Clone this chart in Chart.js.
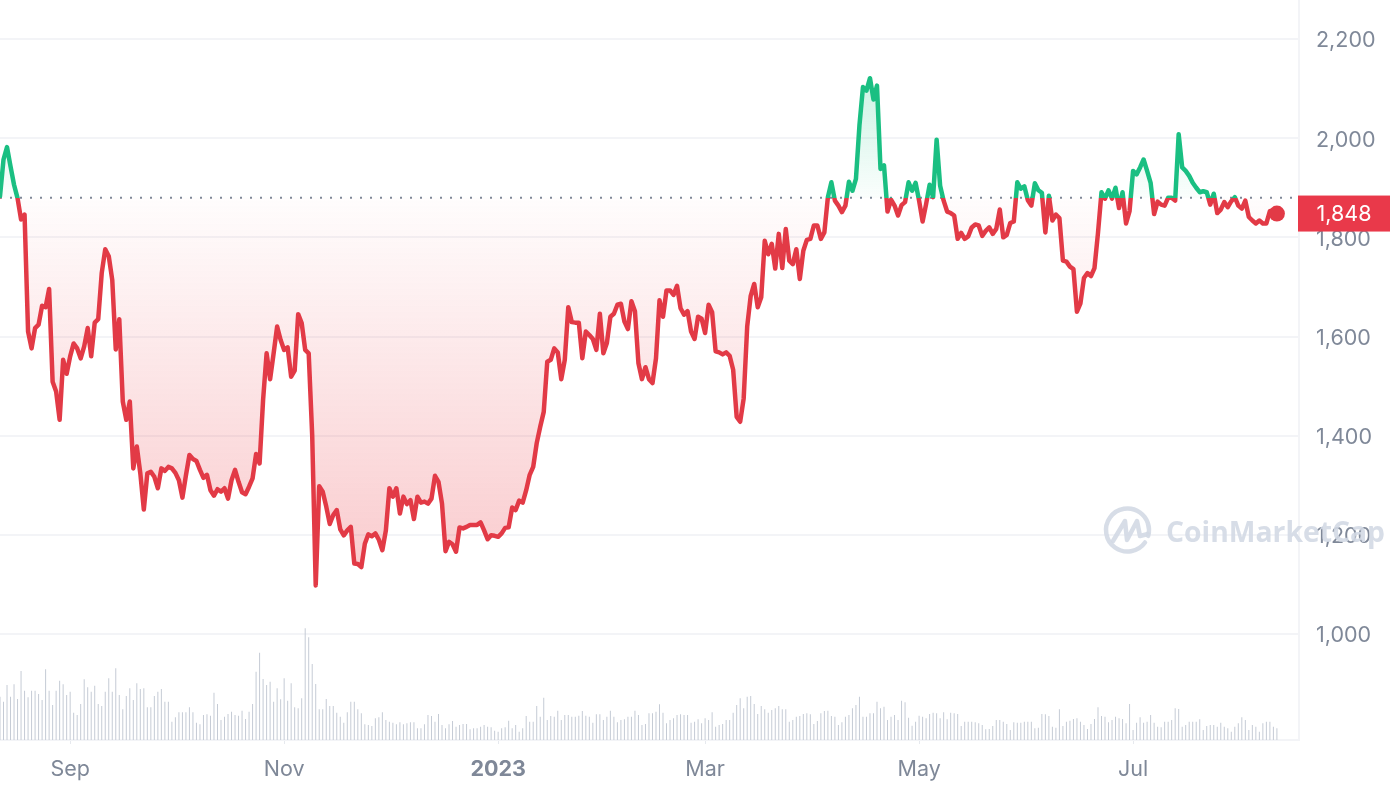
<!DOCTYPE html>
<html><head><meta charset="utf-8"><title>Price chart</title>
<style>html,body{margin:0;padding:0;background:#fff}canvas{display:block}</style>
<script src="https://cdn.jsdelivr.net/npm/chart.js@4/dist/chart.umd.min.js"></script>
</head><body><canvas id="c" width="1394" height="792"></canvas>
<script>
const tickDays=[20,81,142,201,262,323];
const tickLabels=['Sep','Nov','2023','Mar','May','Jul'];
const priceTicks=[1000,1200,1400,1600,1800,2000,2200];
const baselinePrice=1880;
const lastPrice=1848;
const prices=[
1883,1957,1982,1943,1906,1879,1836,1846,1610,1576,
1617,1624,1662,1659,1696,1509,1489,1432,1553,1525,
1560,1586,1576,1556,1580,1617,1560,1628,1635,1728,
1776,1762,1714,1574,1635,1469,1432,1469,1334,1378,
1324,1251,1324,1327,1317,1294,1334,1329,1337,1334,
1325,1310,1275,1320,1361,1353,1349,1331,1315,1321,
1290,1279,1292,1287,1294,1273,1310,1331,1307,1286,
1282,1297,1314,1363,1344,1472,1566,1514,1566,1620,
1593,1573,1578,1519,1531,1645,1627,1573,1566,1400,
1098,1298,1287,1257,1222,1240,1250,1211,1199,1209,
1216,1142,1141,1135,1182,1201,1197,1203,1190,1169,
1209,1294,1277,1294,1243,1277,1262,1270,1232,1277,
1265,1267,1263,1273,1319,1307,1263,1167,1186,1181,
1166,1215,1213,1216,1220,1220,1220,1225,1209,1191,
1199,1198,1196,1203,1214,1215,1255,1250,1269,1265,
1290,1321,1337,1385,1418,1448,1549,1553,1576,1568,
1514,1553,1659,1629,1628,1628,1556,1610,1603,1595,
1573,1646,1566,1587,1640,1646,1664,1666,1630,1615,
1671,1651,1546,1514,1538,1514,1506,1556,1673,1640,
1693,1693,1684,1702,1657,1644,1651,1610,1595,1640,
1636,1607,1664,1649,1570,1568,1564,1568,1561,1533,
1438,1428,1475,1620,1682,1706,1659,1679,1793,1766,
1787,1737,1807,1738,1817,1753,1746,1776,1716,1773,
1795,1797,1824,1824,1797,1810,1881,1911,1874,1864,
1851,1864,1912,1894,1918,2026,2103,2096,2121,2078,
2106,1938,1945,1852,1876,1864,1844,1865,1871,1911,
1894,1910,1874,1832,1867,1906,1881,1997,1904,1874,
1852,1849,1844,1797,1809,1797,1802,1820,1826,1824,
1803,1813,1820,1807,1817,1856,1800,1805,1829,1832,
1911,1898,1903,1875,1864,1909,1895,1890,1810,1884,
1834,1846,1839,1753,1751,1741,1736,1650,1667,1718,
1728,1722,1738,1809,1891,1878,1895,1878,1900,1859,
1891,1828,1853,1934,1927,1941,1957,1934,1910,1847,
1872,1866,1864,1880,1880,1874,2008,1941,1934,1924,
1910,1900,1891,1893,1891,1866,1888,1849,1856,1871,
1861,1873,1881,1864,1858,1874,1841,1834,1828,1834,
1828,1828,1853,1855,1848];
const volumes=[
130,115,165,130,167,123,207,148,128,148,
148,138,120,212,148,105,148,178,167,135,
145,82,75,108,182,158,145,163,108,102,
145,185,145,215,135,92,132,155,120,170,
153,155,98,98,132,145,153,115,115,55,
68,83,83,83,98,83,52,47,75,77,
73,142,108,60,70,78,85,75,73,88,
63,85,108,205,262,183,165,175,115,155,
122,185,118,170,98,95,125,335,308,228,
168,92,92,123,102,102,82,70,52,83,
115,115,92,80,47,45,42,65,68,83,
60,55,52,47,53,47,50,53,53,35,
35,47,75,72,55,78,45,35,47,57,
40,45,48,48,32,35,35,40,45,40,
38,28,25,35,38,58,35,45,25,35,
72,55,55,102,70,127,60,72,70,88,
60,75,75,70,70,73,87,73,70,52,
77,77,60,70,88,70,53,60,62,70,
70,88,75,45,48,80,80,85,107,82,
50,60,65,75,77,75,75,52,55,62,
50,65,60,83,40,45,48,60,60,82,
105,125,95,130,132,108,78,102,92,82,
90,95,102,92,92,55,60,70,72,78,
80,77,48,57,80,87,88,72,70,45,
53,70,75,95,105,130,70,70,80,80,
115,95,100,60,70,75,60,118,113,67,
43,55,73,70,65,78,82,80,65,83,
62,82,80,78,42,55,55,55,53,50,
45,32,33,42,60,60,55,48,30,53,
52,52,55,55,55,35,37,78,77,72,
40,37,92,42,55,58,63,65,55,45,
33,48,63,98,72,70,53,60,70,65,
63,50,108,30,52,68,52,55,75,52,
40,38,55,55,60,95,93,40,45,55,
55,55,62,30,42,45,45,40,52,40,
35,25,40,50,68,60,30,45,40,25,
50,55,55,40,35];

const RED='#e23a46',GREEN='#1abf82',GRID='#f3f4f7',TEXT='#7f8898',MARK='#c5cbd5',WM='#d3d9e4';
const Y_MIN=786.2,Y_MAX=2278.7,X_MAX=370.3,PLOT_BOTTOM=740;
const yPx=v=>PLOT_BOTTOM*(Y_MAX-v)/(Y_MAX-Y_MIN);
const canvas=document.getElementById('c');
const g=canvas.getContext('2d');
const baseStop=yPx(baselinePrice)/PLOT_BOTTOM;
const lineGrad=g.createLinearGradient(0,0,0,PLOT_BOTTOM);
lineGrad.addColorStop(0,GREEN);lineGrad.addColorStop(baseStop,GREEN);
lineGrad.addColorStop(baseStop,RED);lineGrad.addColorStop(1,RED);
const aboveGrad=g.createLinearGradient(0,yPx(Math.max(...prices)),0,yPx(baselinePrice));
aboveGrad.addColorStop(0,'rgba(22,199,132,0.22)');aboveGrad.addColorStop(1,'rgba(22,199,132,0.02)');
const belowGrad=g.createLinearGradient(0,yPx(baselinePrice),0,yPx(Math.min(...prices)));
belowGrad.addColorStop(0,'rgba(234,57,67,0.01)');belowGrad.addColorStop(1,'rgba(234,57,67,0.27)');

let nudged=false;
const overlay={id:'overlay',
 beforeDraw(chart){
  if(nudged)return;nudged=true;
  chart.scales.y.getLabelItems().forEach(it=>{it.options.translation=[it.options.translation[0],it.options.translation[1]+2]});
 },
 afterDraw(chart){
  const c=chart.ctx,y=chart.scales.y.getPixelForValue(lastPrice);
  c.save();
  c.fillStyle='#e9394a';c.fillRect(1298,y-18,92,36);
  c.fillStyle='#fff';c.font='21.5px Inter';c.textAlign='center';c.textBaseline='middle';
  c.fillText(String(lastPrice).replace(/(\d)(\d{3})$/,'$1,$2'),1344,y+1);
  c.globalAlpha=0.9;
  c.strokeStyle=WM;c.lineWidth=4.5;c.lineCap='round';c.lineJoin='round';
  c.beginPath();c.arc(1127.5,530,21.5,0.62,Math.PI*2+0.28);c.stroke();
  c.beginPath();c.moveTo(1113,541);c.lineTo(1125,521);c.lineTo(1127,540);c.lineTo(1137,521);c.lineTo(1140,536);c.lineTo(1148,534);c.stroke();
  c.fillStyle=WM;c.font='700 28.3px "Open Sans"';c.textAlign='left';c.textBaseline='alphabetic';
  c.fillText('CoinMarketCap',1166,542);
  c.restore();
}};
const noPad=s=>{s.paddingLeft=s.paddingRight=s.paddingTop=s.paddingBottom=0};

new Chart(canvas,{
  data:{datasets:[
    {type:'bar',yAxisID:'v',order:3,data:volumes.map((v,i)=>({x:i,y:v})),backgroundColor:MARK,barThickness:1,inflateAmount:0},
    {type:'line',order:2,data:[{x:0,y:baselinePrice},{x:X_MAX,y:baselinePrice}],borderColor:'#7f8898',borderWidth:2,borderDash:[2,8],pointRadius:0,fill:false},
    {type:'line',order:1,data:prices.map((v,i)=>({x:i,y:v})),borderColor:lineGrad,borderWidth:4.5,tension:0,
      borderJoinStyle:'round',borderCapStyle:'round',
      pointRadius:c=>c.dataIndex===prices.length-1?8:0,pointBackgroundColor:RED,pointBorderWidth:0,
      fill:{target:{value:baselinePrice},above:aboveGrad,below:belowGrad}}
  ]},
  options:{responsive:false,animation:false,events:[],
    layout:{padding:0,autoPadding:false},
    plugins:{legend:{display:false},tooltip:{enabled:false}},
    scales:{
      x:{type:'linear',min:0,max:X_MAX,offset:false,
        afterBuildTicks:s=>{s.ticks=tickDays.map(v=>({value:v}))},
        afterFit:s=>{s.height=52;noPad(s)},
        grid:{offset:false,drawOnChartArea:false,drawTicks:true,tickLength:4,color:'#e6e9ee'},
        border:{color:GRID,width:2},
        ticks:{autoSkip:false,maxRotation:0,padding:13,color:TEXT,
          font:c=>({family:'Inter',size:21.5,weight:c.tick&&c.tick.value===tickDays[2]?'700':'400'}),
          callback:v=>tickLabels[tickDays.indexOf(v)]}},
      y:{position:'right',min:Y_MIN,max:Y_MAX,
        afterBuildTicks:s=>{s.ticks=priceTicks.map(v=>({value:v}))},
        afterFit:s=>{s.width=95;noPad(s)},
        grid:{color:GRID,lineWidth:2,drawTicks:false},
        border:{color:GRID,width:2},
        ticks:{crossAlign:'near',padding:17,color:TEXT,font:{family:'Inter',size:21.5},
          callback:v=>v.toLocaleString('en-US')}},
      v:{display:false,min:0,max:2220}
    }},
  plugins:[overlay]
});
</script></body></html>
